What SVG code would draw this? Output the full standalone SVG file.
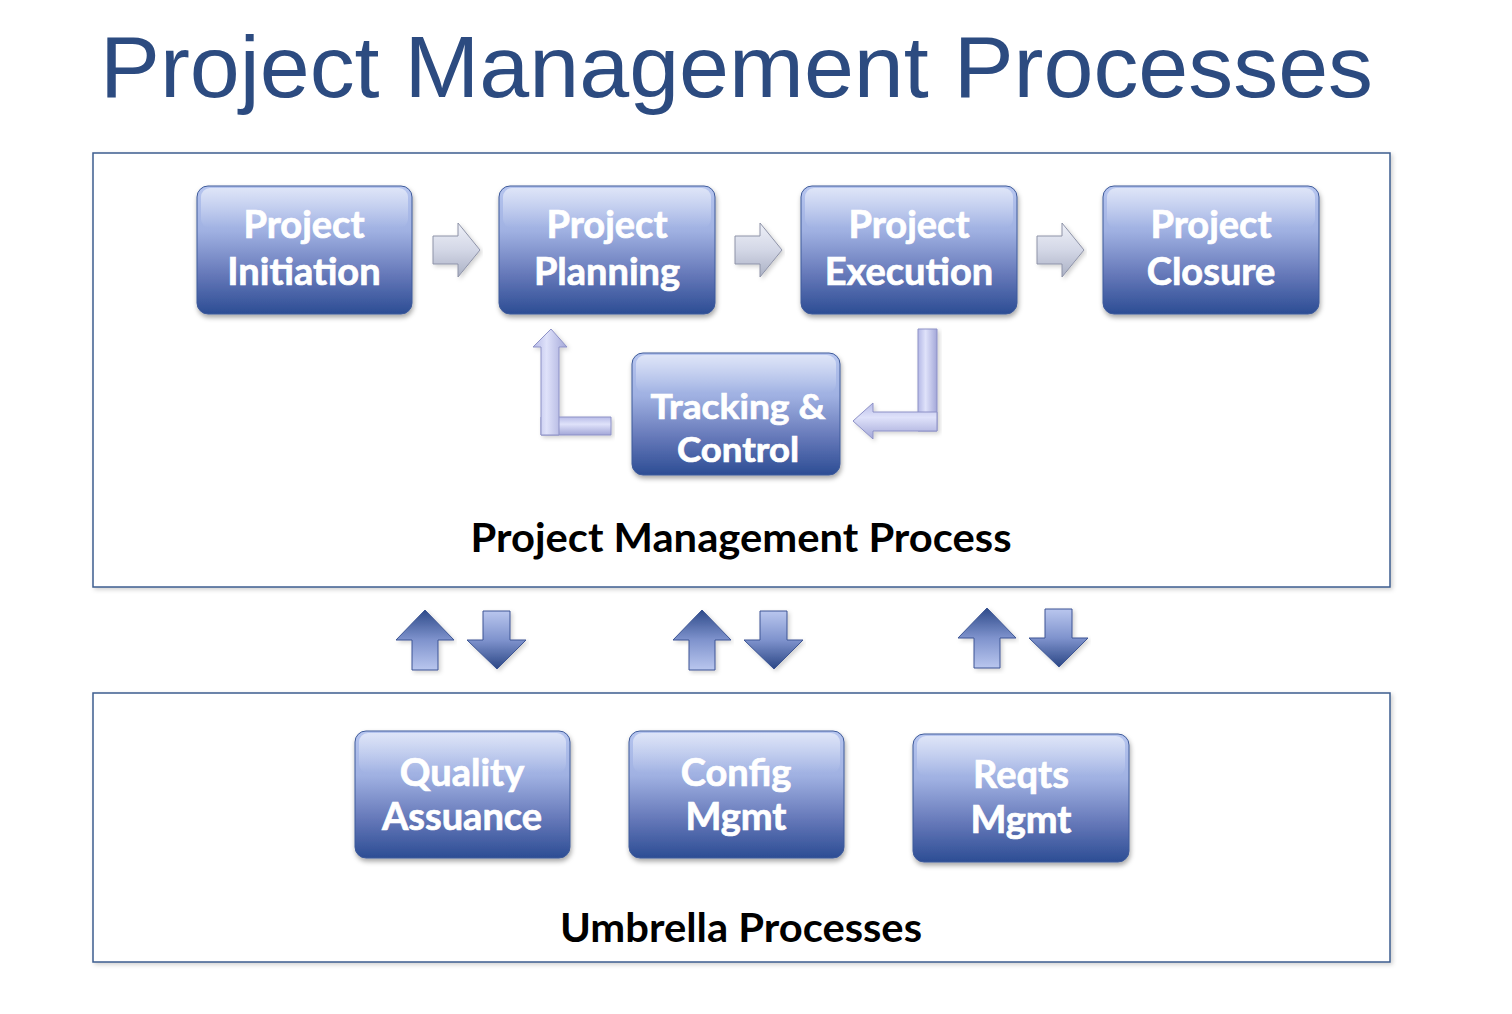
<svg xmlns="http://www.w3.org/2000/svg" width="1512" height="1014" viewBox="0 0 1512 1014">
  <defs>
    <linearGradient id="boxGrad" x1="0" y1="0" x2="0" y2="1">
      <stop offset="0" stop-color="#b6c5ef"/>
      <stop offset="0.35" stop-color="#a0b1e2"/>
      <stop offset="0.7" stop-color="#6477b8"/>
      <stop offset="1" stop-color="#2c4d94"/>
    </linearGradient>
    <linearGradient id="hiGrad" x1="0" y1="0" x2="0" y2="1">
      <stop offset="0" stop-color="#ffffff" stop-opacity="0.55"/>
      <stop offset="1" stop-color="#ffffff" stop-opacity="0"/>
    </linearGradient>
    <linearGradient id="grayArrow" x1="0" y1="0" x2="0" y2="1">
      <stop offset="0" stop-color="#eef0f8"/>
      <stop offset="0.5" stop-color="#d3d7e6"/>
      <stop offset="1" stop-color="#aab0c4"/>
    </linearGradient>
    <linearGradient id="lavV" x1="0" y1="0" x2="1" y2="0">
      <stop offset="0" stop-color="#b4b8e6"/>
      <stop offset="0.4" stop-color="#dfe2fa"/>
      <stop offset="1" stop-color="#a3a7d8"/>
    </linearGradient>
    <linearGradient id="lavH" x1="0" y1="0" x2="0" y2="1">
      <stop offset="0" stop-color="#b8bce8"/>
      <stop offset="0.4" stop-color="#dfe2fa"/>
      <stop offset="1" stop-color="#a3a7d8"/>
    </linearGradient>
    <linearGradient id="upGrad" x1="0" y1="0" x2="0" y2="1">
      <stop offset="0" stop-color="#2f4b8a"/>
      <stop offset="0.5" stop-color="#7f93cd"/>
      <stop offset="1" stop-color="#b9c6ee"/>
    </linearGradient>
    <linearGradient id="downGrad" x1="0" y1="0" x2="0" y2="1">
      <stop offset="0" stop-color="#b9c6ee"/>
      <stop offset="0.5" stop-color="#7f93cd"/>
      <stop offset="1" stop-color="#2b4685"/>
    </linearGradient>
    <filter id="shadow" x="-10%" y="-10%" width="125%" height="130%">
      <feDropShadow dx="1" dy="3" stdDeviation="2.5" flood-color="#000000" flood-opacity="0.35"/>
    </filter>
    <filter id="softShadow" x="-5%" y="-5%" width="110%" height="115%">
      <feDropShadow dx="2" dy="2" stdDeviation="2" flood-color="#000000" flood-opacity="0.18"/>
    </filter>
  </defs>
  <style>
    .frame { fill: #ffffff; stroke: #3d5d8f; stroke-width: 1.5; }
    .box { fill: url(#boxGrad); stroke: #3e5a9a; stroke-width: 1; }
    .hi { fill: url(#hiGrad); }
    .nodeText { font-family: Lato, "Open Sans", "DejaVu Sans", sans-serif; font-weight: bold; font-size: 38px; fill: #ffffff; stroke: #ffffff; stroke-width: 0.7; text-anchor: middle; }
    .small { font-size: 34px; }
    .label { font-family: Lato, "Open Sans", "DejaVu Sans", sans-serif; font-weight: bold; font-size: 40px; fill: #000000; text-anchor: middle; }
    .title { font-family: "Liberation Sans", Arial, sans-serif; font-size: 88px; fill: #2c4b80; }
    .grayArrow { fill: url(#grayArrow); stroke: #8e93a8; stroke-width: 1; }
    .lav { stroke: #8d91c6; stroke-width: 1; }
    .up { fill: url(#upGrad); stroke: #3c5594; stroke-width: 1; }
    .down { fill: url(#downGrad); stroke: #3c5594; stroke-width: 1; }
  </style>

  <rect width="1512" height="1014" fill="#ffffff"/>

  <text class="title" x="100" y="97" textLength="1273" lengthAdjust="spacingAndGlyphs">Project Management Processes</text>

  <g id="frame-pm">
    <rect class="frame" x="93" y="153" width="1297" height="434" filter="url(#softShadow)"/>
    <text class="label" x="741" y="552" textLength="541" lengthAdjust="spacingAndGlyphs">Project Management Process</text>
  </g>
  <g id="frame-umbrella">
    <rect class="frame" x="93" y="693" width="1297" height="269" filter="url(#softShadow)"/>
    <text class="label" x="741" y="942" textLength="362" lengthAdjust="spacingAndGlyphs">Umbrella Processes</text>
  </g>

  <g id="node-initiation">
    <rect class="box" x="197" y="186" width="215" height="128" rx="11" filter="url(#shadow)"/>
    <rect class="hi" x="201" y="188" width="207" height="40" rx="9"/>
    <text class="nodeText" x="304" y="238">Project</text>
    <text class="nodeText" x="304" y="285">Initiation</text>
  </g>
  <g id="node-planning">
    <rect class="box" x="499" y="186" width="216" height="128" rx="11" filter="url(#shadow)"/>
    <rect class="hi" x="503" y="188" width="208" height="40" rx="9"/>
    <text class="nodeText" x="607" y="238">Project</text>
    <text class="nodeText" x="607" y="285">Planning</text>
  </g>
  <g id="node-execution">
    <rect class="box" x="801" y="186" width="216" height="128" rx="11" filter="url(#shadow)"/>
    <rect class="hi" x="805" y="188" width="208" height="40" rx="9"/>
    <text class="nodeText" x="909" y="238">Project</text>
    <text class="nodeText" x="909" y="285">Execution</text>
  </g>
  <g id="node-closure">
    <rect class="box" x="1103" y="186" width="216" height="128" rx="11" filter="url(#shadow)"/>
    <rect class="hi" x="1107" y="188" width="208" height="40" rx="9"/>
    <text class="nodeText" x="1211" y="238">Project</text>
    <text class="nodeText" x="1211" y="285">Closure</text>
  </g>
  <g id="node-tracking">
    <rect class="box" x="632" y="353" width="208" height="122" rx="11" filter="url(#shadow)"/>
    <rect class="hi" x="636" y="355" width="200" height="38" rx="9"/>
    <text class="nodeText small" x="738" y="419" textLength="175" lengthAdjust="spacingAndGlyphs">Tracking &amp;</text>
    <text class="nodeText small" x="738" y="462" textLength="122" lengthAdjust="spacingAndGlyphs">Control</text>
  </g>

  <g id="node-quality">
    <rect class="box" x="355" y="731" width="215" height="127" rx="11" filter="url(#shadow)"/>
    <rect class="hi" x="359" y="733" width="207" height="40" rx="9"/>
    <text class="nodeText" x="462" y="786">Quality</text>
    <text class="nodeText" x="462" y="830">Assuance</text>
  </g>
  <g id="node-config">
    <rect class="box" x="629" y="731" width="215" height="127" rx="11" filter="url(#shadow)"/>
    <rect class="hi" x="633" y="733" width="207" height="40" rx="9"/>
    <text class="nodeText" x="736" y="786">Config</text>
    <text class="nodeText" x="736" y="830">Mgmt</text>
  </g>
  <g id="node-reqts">
    <rect class="box" x="913" y="734" width="216" height="128" rx="11" filter="url(#shadow)"/>
    <rect class="hi" x="917" y="736" width="208" height="40" rx="9"/>
    <text class="nodeText" x="1021" y="788">Reqts</text>
    <text class="nodeText" x="1021" y="833">Mgmt</text>
  </g>

  <g id="connectors">
    <polygon class="grayArrow" filter="url(#softShadow)" points="433,236 458,236 458,223 480,250 458,277 458,264 433,264"/>
    <polygon class="grayArrow" filter="url(#softShadow)" points="735,236 760,236 760,223 782,250 760,277 760,264 735,264"/>
    <polygon class="grayArrow" filter="url(#softShadow)" points="1037,236 1062,236 1062,223 1084,250 1062,277 1062,264 1037,264"/>

    <g filter="url(#softShadow)">
      <polygon class="lav" fill="url(#lavH)" points="541,417 611,417 611,435 541,435"/>
      <polygon class="lav" fill="url(#lavV)" points="551,329 567,347 559,347 559,435 541,435 541,347 533,347"/>
    </g>

    <g filter="url(#softShadow)">
      <polygon class="lav" fill="url(#lavV)" points="918,329 937,329 937,431 918,431"/>
      <polygon class="lav" fill="url(#lavH)" points="937,412 937,431 873,431 873,439 853,421 873,403 873,412"/>
    </g>

    <polygon class="up" filter="url(#softShadow)" points="425,610 454,640 438,640 438,670 412,670 412,640 396,640"/>
    <polygon class="down" filter="url(#softShadow)" points="483,611 510,611 510,640 526,640 497,669 467,640 483,640"/>

    <polygon class="up" filter="url(#softShadow)" points="702,610 731,640 715,640 715,670 689,670 689,640 673,640"/>
    <polygon class="down" filter="url(#softShadow)" points="760,611 787,611 787,640 803,640 774,669 744,640 760,640"/>

    <polygon class="up" filter="url(#softShadow)" points="987,608 1016,638 1000,638 1000,668 974,668 974,638 958,638"/>
    <polygon class="down" filter="url(#softShadow)" points="1045,609 1072,609 1072,638 1088,638 1059,667 1029,638 1045,638"/>
  </g>
</svg>
